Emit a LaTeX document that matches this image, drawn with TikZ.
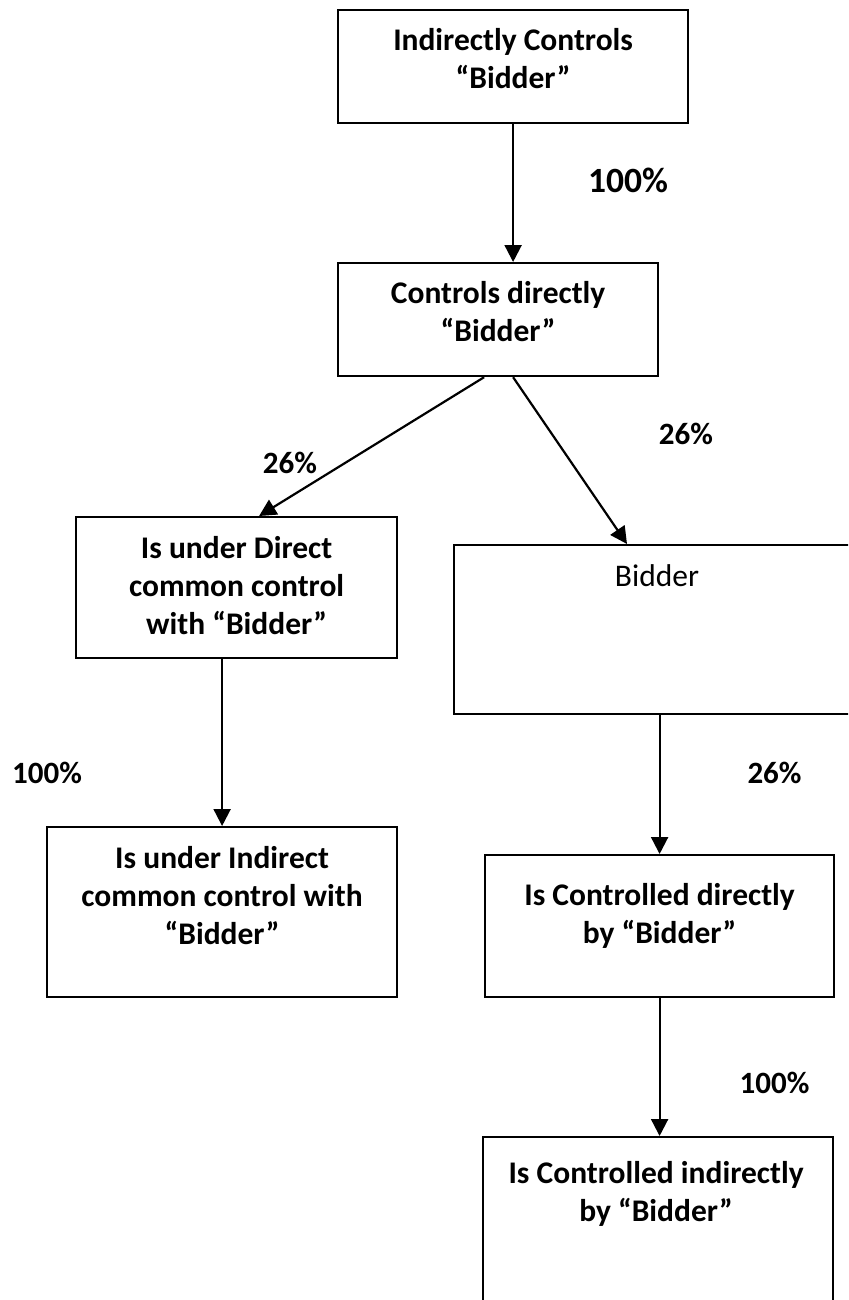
\documentclass[tikz,border=0pt]{standalone}
\usepackage{fontspec}
\setmainfont{Carlito}
\usetikzlibrary{arrows.meta,positioning}
\begin{document}
\begin{tikzpicture}[x=1pt,y=-1pt,
  box/.style={draw=black,line width=2.2pt,rectangle,inner sep=0pt,anchor=north west},
  boxtext/.style={inner sep=0pt,anchor=north,align=center,font=\fontsize{31.5}{38}\selectfont\bfseries},
  plaintext/.style={inner sep=0pt,anchor=north,align=center,font=\fontsize{31.5}{38}\selectfont},
  pct/.style={inner sep=0pt,font=\fontsize{31}{37}\selectfont\bfseries},
  bigpct/.style={inner sep=0pt,font=\fontsize{35.5}{42}\selectfont\bfseries},
  conn/.style={line width=2.2pt,-{Triangle[width=17pt,length=17pt]}}]
\clip (0,0) rectangle (848,1300);
\fill[white] (0,0) rectangle (848,1300);
% boxes
\node[box,minimum width=350pt,minimum height=113pt] (b1) at (337,9) {};
\node[box,minimum width=320pt,minimum height=113pt] (b2) at (337,262) {};
\node[box,minimum width=321pt,minimum height=141pt] (b3) at (75,516) {};
\node[box,minimum width=450pt,minimum height=169pt] (b4) at (453,544) {};
\node[box,minimum width=350pt,minimum height=170pt] (b5) at (46,826) {};
\node[box,minimum width=349pt,minimum height=142pt] (b6) at (484,854) {};
\node[box,minimum width=350pt,minimum height=220pt] (b7) at (482,1136) {};
% texts
\node[boxtext] (t1) at ([yshift=-14.4pt]b1.north) {\strut Indirectly Controls\\“Bidder”};
\node[boxtext] (t2) at ([yshift=-14.4pt]b2.north) {\strut Controls directly\\“Bidder”};
\node[boxtext] (t3) at ([yshift=-15.4pt]b3.north) {\strut Is under Direct\\common control\\with “Bidder”};
\node[plaintext] (t4) at ([xshift=204pt,yshift=-15.4pt]b4.north west) {\strut Bidder};
\node[boxtext] (t5) at ([yshift=-15.4pt]b5.north) {\strut Is under Indirect\\common control with\\“Bidder”};
\node[boxtext] (t6) at ([yshift=-24.4pt]b6.north) {\strut Is Controlled directly\\by “Bidder”};
\node[boxtext] (t7) at ([xshift=-2pt,yshift=-20.4pt]b7.north) {\strut Is Controlled indirectly\\by “Bidder”};
% connectors
\draw[conn] (b1.south) -- (b1.south |- b2.north);
\draw[conn] ([xshift=-14pt]b2.south) -- ([xshift=22.5pt]b3.north);
\draw[conn] ([xshift=15pt]b2.south) -- ([xshift=174pt]b4.north west);
\draw[conn] (b5.north |- b3.south) -- (b5.north);
\draw[conn] (b6.north |- b4.south) -- (b6.north);
\draw[conn] (b6.south) -- (b6.south |- b7.north);
% labels
\node[bigpct] (l1) at (628,180) {100\%};
\node[pct] (l2) at (290,463) {26\%};
\node[pct] (l3) at (686,434) {26\%};
\node[pct] (l4) at (47,773) {100\%};
\node[pct] (l5) at (774.5,773) {26\%};
\node[pct] (l6) at (774.5,1083) {100\%};
\end{tikzpicture}
\end{document}
